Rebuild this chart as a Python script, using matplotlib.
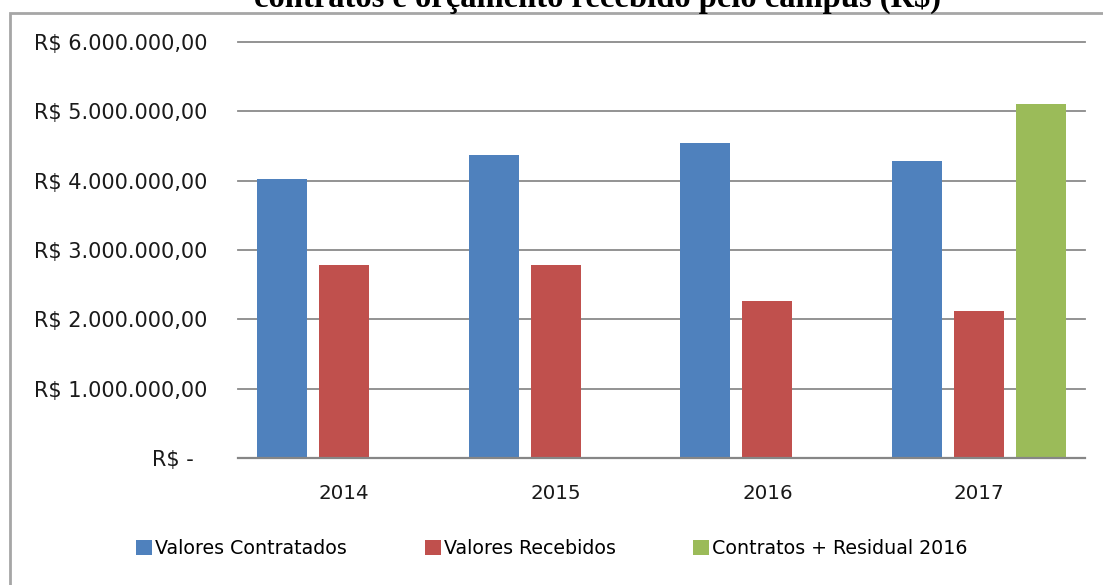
import matplotlib.pyplot as plt
import matplotlib.patches as mpatches
import numpy as np

years = ['2014', '2015', '2016', '2017']
contratados = [4020000, 4370000, 4540000, 4290000]
recebidos = [2780000, 2780000, 2260000, 2120000]
residual = [0, 0, 0, 5100000]
series_names = ['Valores Contratados', 'Valores Recebidos', 'Contratos + Residual 2016']
y_ticks = [0, 1000000, 2000000, 3000000, 4000000, 5000000, 6000000]
y_labels = ['R$ -  ', 'R$ 1.000.000,00', 'R$ 2.000.000,00', 'R$ 3.000.000,00',
            'R$ 4.000.000,00', 'R$ 5.000.000,00', 'R$ 6.000.000,00']

colors = ['#4F81BD', '#C0504D', '#9BBB59']

plt.rcParams['font.family'] = ['DejaVu Sans']

fig = plt.figure(figsize=(11.03, 5.85), dpi=100)
ax = fig.add_axes([238 / 1103, 1 - 458 / 585, (1085 - 238) / 1103, (458 - 42) / 585])

x = np.arange(len(years))
slot = 0.293
width = 0.236
bars = []
for i, vals in enumerate([contratados, recebidos, residual]):
    b = ax.bar(x + (i - 1) * slot, vals, width, color=colors[i],
               label=series_names[i], zorder=3)
    bars.append(b)

ax.set_xlim(-0.5, 3.5)
ax.set_ylim(0, 6000000)
ax.set_yticks(y_ticks)
ax.set_yticklabels(y_labels, fontsize=15, color='#1a1a1a')
ax.set_xticks(x)
ax.set_xticklabels(years, fontsize=14.3, color='#1a1a1a')
ax.tick_params(axis='y', length=0, pad=22.3)
ax.tick_params(axis='x', length=0, pad=19)
ax.yaxis.grid(True, color='#8a8a8a', linewidth=1.3, zorder=0)
for gl in ax.yaxis.get_gridlines():
    gl.set_clip_on(False)
for s in ['top', 'right', 'left']:
    ax.spines[s].set_visible(False)
ax.spines['bottom'].set_color('#868686')
ax.spines['bottom'].set_linewidth(1.6)
ax.spines['bottom'].set_zorder(4)

# one legend per entry, Excel-like spacing
legend_x = [136, 425, 693]
for b, name, lx in zip(bars, series_names, legend_x):
    leg = fig.legend(handles=[b], labels=[name], loc='center left',
                     bbox_to_anchor=(lx / 1103, 1 - 549 / 585), frameon=False,
                     fontsize=13.7, handlelength=0.85, handleheight=0.85,
                     handletextpad=0.15, borderpad=0, borderaxespad=0)

# title is cut at the top edge in the original
fig.text(597 / 1103, 1 - 6.5 / 585, 'contratos e orçamento recebido pelo campus (R$)',
         ha='center', va='baseline', fontsize=23.5, fontweight='bold',
         family='Liberation Serif')

border = mpatches.Rectangle((9.5 / 1103, -0.05), 1.05, 1 - 13 / 585 + 0.05,
                            transform=fig.transFigure, fill=False,
                            edgecolor='#a6a6a6', linewidth=2, clip_on=False)
fig.patches.append(border)

fig.savefig('out.png', dpi=100)
